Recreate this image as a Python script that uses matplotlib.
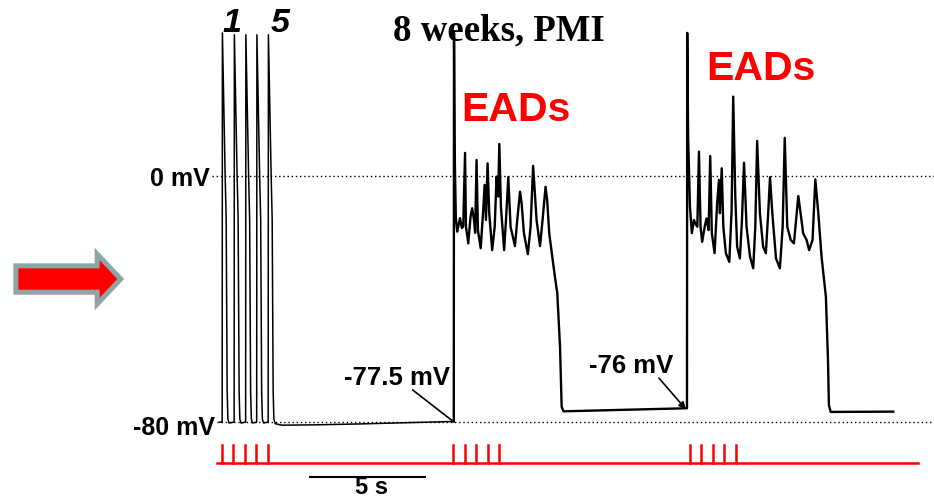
import numpy as np
import matplotlib.pyplot as plt

# stimulus pulse times (s)
stim_burst1 = [0.0, 0.5, 1.0, 1.5, 2.0]
stim_burst2 = [10.05, 10.55, 11.05, 11.55, 12.05]
stim_burst3 = [20.35, 20.85, 21.35, 21.85, 22.35]

# first train: 5 normal APs (onset time, peak mV)
ap_t = [0.01, 0.53, 1.03, 1.51, 2.01]
ap_peak = [46.5, 45.9, 45.9, 45.9, 45.9]
# repolarisation after peak (s after onset, mV)
ap_dt = [0.13, 0.174, 0.217, 0.248, 0.30]
ap_v = [0.0, -14.0, -70.0, -79.0, -80.3]

# resting potential after the first train
rest1_t = [2.31, 2.6, 4.0, 6.0, 8.0, 10.08]
rest1_v = [-80.5, -81.0, -80.9, -80.6, -80.2, -79.8]

# second AP with EADs
burst2_t = [10.09, 10.12, 10.17, 10.23, 10.35, 10.43, 10.49, 10.57, 10.61, 10.71,
            10.81, 10.88, 10.96, 11.01, 11.07, 11.13, 11.25, 11.36, 11.42, 11.48,
            11.55, 11.62, 11.75, 11.86, 11.94, 12.01, 12.06, 12.13, 12.27, 12.35,
            12.45, 12.55, 12.74, 12.84, 12.96, 13.03, 13.13, 13.30, 13.42, 13.53,
            13.68, 13.83, 13.94, 14.07, 14.14, 14.23, 14.40, 14.52, 14.58, 14.70,
            14.77, 14.85]
burst2_v = [46.5, 7.5, -13.7, -18.1, -13.7, -16.9, -16.5, 7.5, -16.5, -21.9,
            -13.2, -10.5, -14.3, -18.5, 5.2, -17.6, -23.5, -11.1, -2.9, -14.3,
            4.1, -12.0, -24.1, -16.5, -0.2, -6.7, 10.4, -10.0, -24.1, -14.3,
            -0.4, -16.5, -22.8, -14.3, -5.1, -8.9, -18.6, -25.4, -16.5, 3.3,
            -14.3, -22.8, -14.3, -3.5, -7.8, -18.6, -28.4, -35.0, -38.1, -55.6,
            -75.0, -76.5]

rest2_t = [17.0, 20.22]
rest2_v = [-76.1, -75.5]

# third AP with EADs
burst3_t = [20.23, 20.27, 20.35, 20.43, 20.52, 20.61, 20.67, 20.74, 20.81, 20.88,
            20.99, 21.07, 21.16, 21.23, 21.30, 21.42, 21.53, 21.61, 21.65, 21.73,
            21.80, 21.91, 22.06, 22.16, 22.23, 22.32, 22.40, 22.52, 22.61, 22.70,
            22.81, 22.96, 23.10, 23.19, 23.27, 23.39, 23.53, 23.65, 23.75, 23.83,
            23.93, 24.09, 24.26, 24.38, 24.47, 24.58, 24.73, 24.87, 25.06, 25.16,
            25.27, 25.42, 25.53, 25.68, 25.80, 25.93, 26.07, 26.26, 26.35, 26.39,
            26.47]
burst3_v = [46.5, 12.4, -10.0, -18.6, -14.3, -15.9, -16.5, 7.9, -16.5, -21.4,
            -16.5, -13.8, -17.6, 6.5, -18.6, -25.1, -8.9, -1.3, -12.1, 2.5,
            -16.5, -25.1, -27.9, -11.1, 25.8, -6.7, -23.0, -26.8, -14.3, 4.3,
            -16.5, -26.2, -30.0, -16.5, 11.4, -12.1, -23.0, -25.1, -12.1, -0.4,
            -12.1, -26.8, -30.0, -16.5, 12.4, -16.5, -20.8, -21.9, -6.5, -12.1,
            -18.6, -20.8, -24.1, -20.8, -1.1, -12.1, -26.2, -39.3, -59.8, -74.5,
            -76.7]

rest3_t = [29.19]
rest3_v = [-76.6]


# build first train
t1 = [-0.1]
v1 = [-80.0]
for t0, pk in zip(ap_t, ap_peak):
    t1 += [t0, t0 + 0.01] + [t0 + d for d in ap_dt]
    v1 += [-80.0, pk] + ap_v
t1 += rest1_t
v1 += rest1_v

t2 = [t1[-1]] + burst2_t + rest2_t + burst3_t + rest3_t
v2 = [v1[-1]] + burst2_v + rest2_v + burst3_v + rest3_v

plt.rcParams['font.family'] = ['Liberation Sans', 'DejaVu Sans']
fig = plt.figure(figsize=(9.34, 4.99), dpi=100)
ax = fig.add_axes([0, 0, 1, 1])
ax.set_xlim(-9.65, 30.96)
ax.set_ylim(-105.0, 57.2)
ax.axis('off')

# reference lines
ax.plot([-0.43, 30.96], [0, 0], color='black', lw=1.0, ls=(0, (1, 2)))
ax.plot([-0.2, 30.96], [-80, -80], color='black', lw=1.0, ls=(0, (1, 2)))

ax.plot(t1, v1, color='black', lw=1.1)
ax.plot(t2, v2, color='black', lw=1.7, solid_joinstyle='round')

# stimulus trace
ax.plot([-0.22, 30.26], [-93.3, -93.3], color='red', lw=1.8)
for s in stim_burst1 + stim_burst2 + stim_burst3:
    ax.plot([s, s], [-93.3, -87.5], color='red', lw=1.8)

# scale bar
ax.plot([3.83, 8.83], [-97.9, -97.9], color='black', lw=1.5)
ax.text(6.52, -103.4, '5 s', ha='center', va='baseline', fontsize=17, fontweight='bold')

# labels
ax.text(-0.52, -3.3, '0 mV', ha='right', va='baseline', fontsize=18, fontweight='bold')
ax.text(-0.3, -84.2, '-80 mV', ha='right', va='baseline', fontsize=18, fontweight='bold')
ax.text(7.63, -68.0, '-77.5 mV', ha='center', va='baseline', fontsize=18.5, fontweight='bold')
ax.plot([8.30, 10.04], [-69.6, -79.7], color='black', lw=1.2)
ax.text(17.8, -64.1, '-76 mV', ha='center', va='baseline', fontsize=18.5, fontweight='bold')
ax.annotate('', xy=(20.17, -75.8), xytext=(19.0, -65.7),
            arrowprops=dict(arrowstyle='-|>', color='black', lw=1.2,
                            mutation_scale=10, shrinkA=0, shrinkB=0))

ax.text(0.43, 46.8, '1', ha='center', va='baseline', fontsize=24.5,
        fontweight='bold', fontstyle='italic')
ax.text(2.52, 46.8, '5', ha='center', va='baseline', fontsize=24.5,
        fontweight='bold', fontstyle='italic')

ax.text(12.04, 44.1, '8 weeks, PMI', ha='center', va='baseline', fontsize=26.5,
        fontweight='bold', family='Liberation Serif')
ax.text(12.78, 17.8, 'EADs', ha='center', va='baseline', fontsize=29.5,
        fontweight='bold', color='red')
ax.text(23.43, 31.2, 'EADs', ha='center', va='baseline', fontsize=29.5,
        fontweight='bold', color='red')

# block arrow on the left
ax.annotate('', xy=(-4.4, -33.5), xytext=(-8.96, -33.5),
            arrowprops=dict(arrowstyle='simple,head_length=17,head_width=36,tail_width=19',
                            fc='red', ec='#8fa5a5', lw=3.6, mutation_scale=1,
                            shrinkA=0, shrinkB=0, joinstyle='miter'))

fig.savefig('out.png', dpi=100)
